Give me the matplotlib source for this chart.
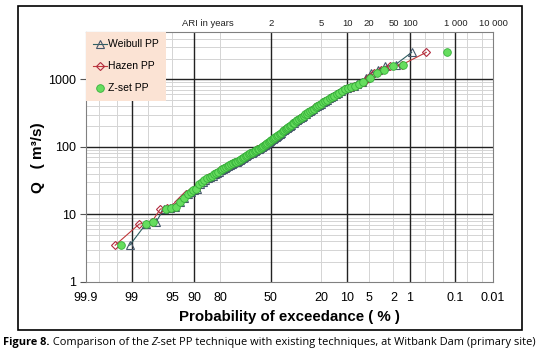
import matplotlib
matplotlib.use("Agg")
import matplotlib.pyplot as plt
from matplotlib.patches import Rectangle
from statistics import NormalDist

# annual peak flows at Witbank Dam, sorted ascending (m3/s)
q = [3.5, 7.2, 7.7, 12.0, 12.3, 12.8, 15.5, 17.4, 20.0, 21.8,
     22.6, 23.5, 28.5, 30.2, 32.0, 34.5, 36.1, 37.4, 39.3, 41.1,
     42.6, 44.7, 46.2, 47.9, 49.6, 51.4, 53.2, 55.1, 57.0, 59.1,
     60.5, 62.7, 64.9, 66.5, 68.9, 71.3, 73.0, 75.5, 77.3, 80.1,
     82.0, 84.9, 86.9, 89.0, 92.2, 94.4, 97.7, 100, 103, 107,
     110, 113, 118, 121, 125, 129, 135, 140, 144, 151,
     156, 161, 169, 175, 183, 189, 195, 205, 212, 222,
     229, 239, 246, 257, 268, 276, 288, 301, 310, 323,
     337, 352, 367, 384, 401, 418, 437, 458, 475, 498,
     523, 542, 569, 604, 634, 673, 715, 750, 774, 804,
     839, 900, 1060, 1230, 1380, 1550, 1650, 2500]

# Z-set plotting positions (standard normal variate), same order as q
zset_z = [-2.50, -2.08, -1.97, -1.75, -1.66, -1.58, -1.51, -1.45, -1.39, -1.34,
          -1.30, -1.25, -1.20, -1.15, -1.11, -1.06, -1.02, -0.99, -0.95, -0.91,
          -0.88, -0.84, -0.81, -0.78, -0.75, -0.72, -0.69, -0.66, -0.63, -0.60,
          -0.58, -0.55, -0.52, -0.50, -0.47, -0.44, -0.42, -0.39, -0.37, -0.34,
          -0.32, -0.29, -0.27, -0.25, -0.22, -0.20, -0.17, -0.15, -0.13, -0.10,
          -0.08, -0.06, -0.03, -0.01, 0.01, 0.03, 0.06, 0.08, 0.10, 0.13,
          0.15, 0.17, 0.20, 0.22, 0.25, 0.27, 0.29, 0.32, 0.34, 0.37,
          0.39, 0.42, 0.44, 0.47, 0.50, 0.52, 0.55, 0.58, 0.60, 0.63,
          0.66, 0.69, 0.72, 0.75, 0.78, 0.81, 0.84, 0.88, 0.91, 0.95,
          0.99, 1.02, 1.06, 1.11, 1.15, 1.20, 1.25, 1.30, 1.35, 1.41,
          1.48, 1.55, 1.66, 1.77, 1.90, 2.05, 2.22, 2.95]

x_tick_pct = [99.9, 99, 95, 90, 80, 50, 20, 10, 5, 2, 1, 0.1, 0.01]
x_tick_labels = ["99.9", "99", "95", "90", "80", "50", "20", "10", "5", "2", "1", "0.1", "0.01"]
major_pct = [99, 90, 50, 10, 1, 0.1]
minor_pct = [99.8, 99.5, 98, 95, 80, 20, 5, 2, 0.5, 0.2, 0.05, 0.02]
ari_years = [2, 5, 10, 20, 50, 100, 1000, 10000]
ari_labels = ["2", "5", "10", "20", "50", "100", "1 000", "10 000"]
y_ticks = [1, 10, 100, 1000]

nd = NormalDist()


def zx(p):
    # exceedance probability (%) -> normal variate of non-exceedance
    return nd.inv_cdf(1 - p / 100.0)


n = len(q)
weibull_z = [nd.inv_cdf(i / (n + 1)) for i in range(1, n + 1)]
hazen_z = [nd.inv_cdf((i - 0.5) / n) for i in range(1, n + 1)]

plt.rcParams['font.family'] = ['Liberation Sans', 'DejaVu Sans']

W, H = 536, 354
fig = plt.figure(figsize=(W / 100, H / 100), dpi=100)
fig.patch.set_facecolor('white')
ax = fig.add_axes([86 / W, 1 - 282 / H, (493 - 86) / W, (282 - 32) / H])

# outer frame
fig.patches.append(Rectangle((18 / W, 1 - 330 / H), (522 - 18) / W, (330 - 6) / H,
                             transform=fig.transFigure, fill=False, lw=1.2, ec='black'))

ax.set_yscale('log')
ax.set_ylim(1, 5000)
ax.set_xlim(zx(99.9), zx(0.01))

# grid
for p in minor_pct:
    ax.axvline(zx(p), color='#d4d4d4', lw=0.7, zorder=0)
for dec in [1, 10, 100, 1000]:
    for k in range(2, 10):
        if k * dec < 5000:
            ax.axhline(k * dec, color='#d4d4d4', lw=0.7, zorder=0)
for p in major_pct:
    ax.axvline(zx(p), color='#222222', lw=1.0, zorder=1)
for yv in [10, 100, 1000]:
    ax.axhline(yv, color='#222222', lw=1.0, zorder=1)

ax.plot(weibull_z, q, color='#2f5f62', lw=0.8, marker='^', ms=5.5, mfc='none',
        mec='#44566a', mew=0.8, label='Weibull PP', zorder=3)
ax.plot(hazen_z, q, color='#c0393b', lw=0.8, marker='D', ms=4, mfc='none',
        mec='#b02a3e', mew=0.8, label='Hazen PP', zorder=4)
ax.plot(zset_z, q, ls='none', marker='o', ms=5.5, mfc='#66dd5e', mec='#35b03a',
        mew=0.6, label='Z-set PP', zorder=5)

ax.set_yticks(y_ticks)
ax.set_yticklabels([str(v) for v in y_ticks])
ax.yaxis.set_minor_locator(matplotlib.ticker.NullLocator())
ax.set_xticks([zx(p) for p in x_tick_pct])
ax.set_xticklabels(x_tick_labels)
ax.tick_params(axis='y', length=4, width=0.8, color='#555555', pad=3, labelsize=9)
ax.tick_params(axis='x', length=0, pad=7, labelsize=9)

for s in ax.spines.values():
    s.set_color('#808080')
    s.set_linewidth(0.8)
    s.set_zorder(2)

# ARI labels along the top
for t, lab in zip(ari_years, ari_labels):
    ax.text(zx(100.0 / t), 1.032, lab, transform=ax.get_xaxis_transform(),
            ha='center', va='center', fontsize=6.8, color='#222222')
ax.text(zx(85.5), 1.032, 'ARI in years', transform=ax.get_xaxis_transform(),
        ha='center', va='center', fontsize=6.8, color='#222222')

leg = ax.legend(loc='upper left', borderaxespad=0, fontsize=7.5, frameon=True,
                fancybox=False, facecolor='#fbe3d4', edgecolor='none', framealpha=1,
                handlelength=1.3, handletextpad=0.15, labelspacing=1.15, borderpad=0.7)
leg.set_zorder(6)

fig.text((86 + 493) / 2 / W, 1 - 317 / H, 'Probability of exceedance ( % )',
         ha='center', va='center', fontsize=10.8, fontweight='bold')
fig.text(38 / W, 1 - 158 / H, 'Q   ( m³/s)', rotation=90, ha='center', va='center',
         fontsize=11, fontweight='bold')

# caption with mixed styles
renderer = fig.canvas.get_renderer()
pieces = [("Figure 8.", 'bold', 'normal'),
          (" Comparison of the", 'normal', 'normal'),
          (" Z", 'normal', 'italic'),
          ("-set PP technique with existing techniques, at Witbank Dam (primary site)", 'normal', 'normal')]
x0 = 3 / W
for txt, fw, fs in pieces:
    t = fig.text(x0, 1 - 345 / H, txt, ha='left', va='baseline', fontsize=7.9,
                 fontweight=fw, fontstyle=fs, family=['Open Sans', 'DejaVu Sans'])
    x0 += t.get_window_extent(renderer).width / W

fig.savefig('out.png', dpi=100)
